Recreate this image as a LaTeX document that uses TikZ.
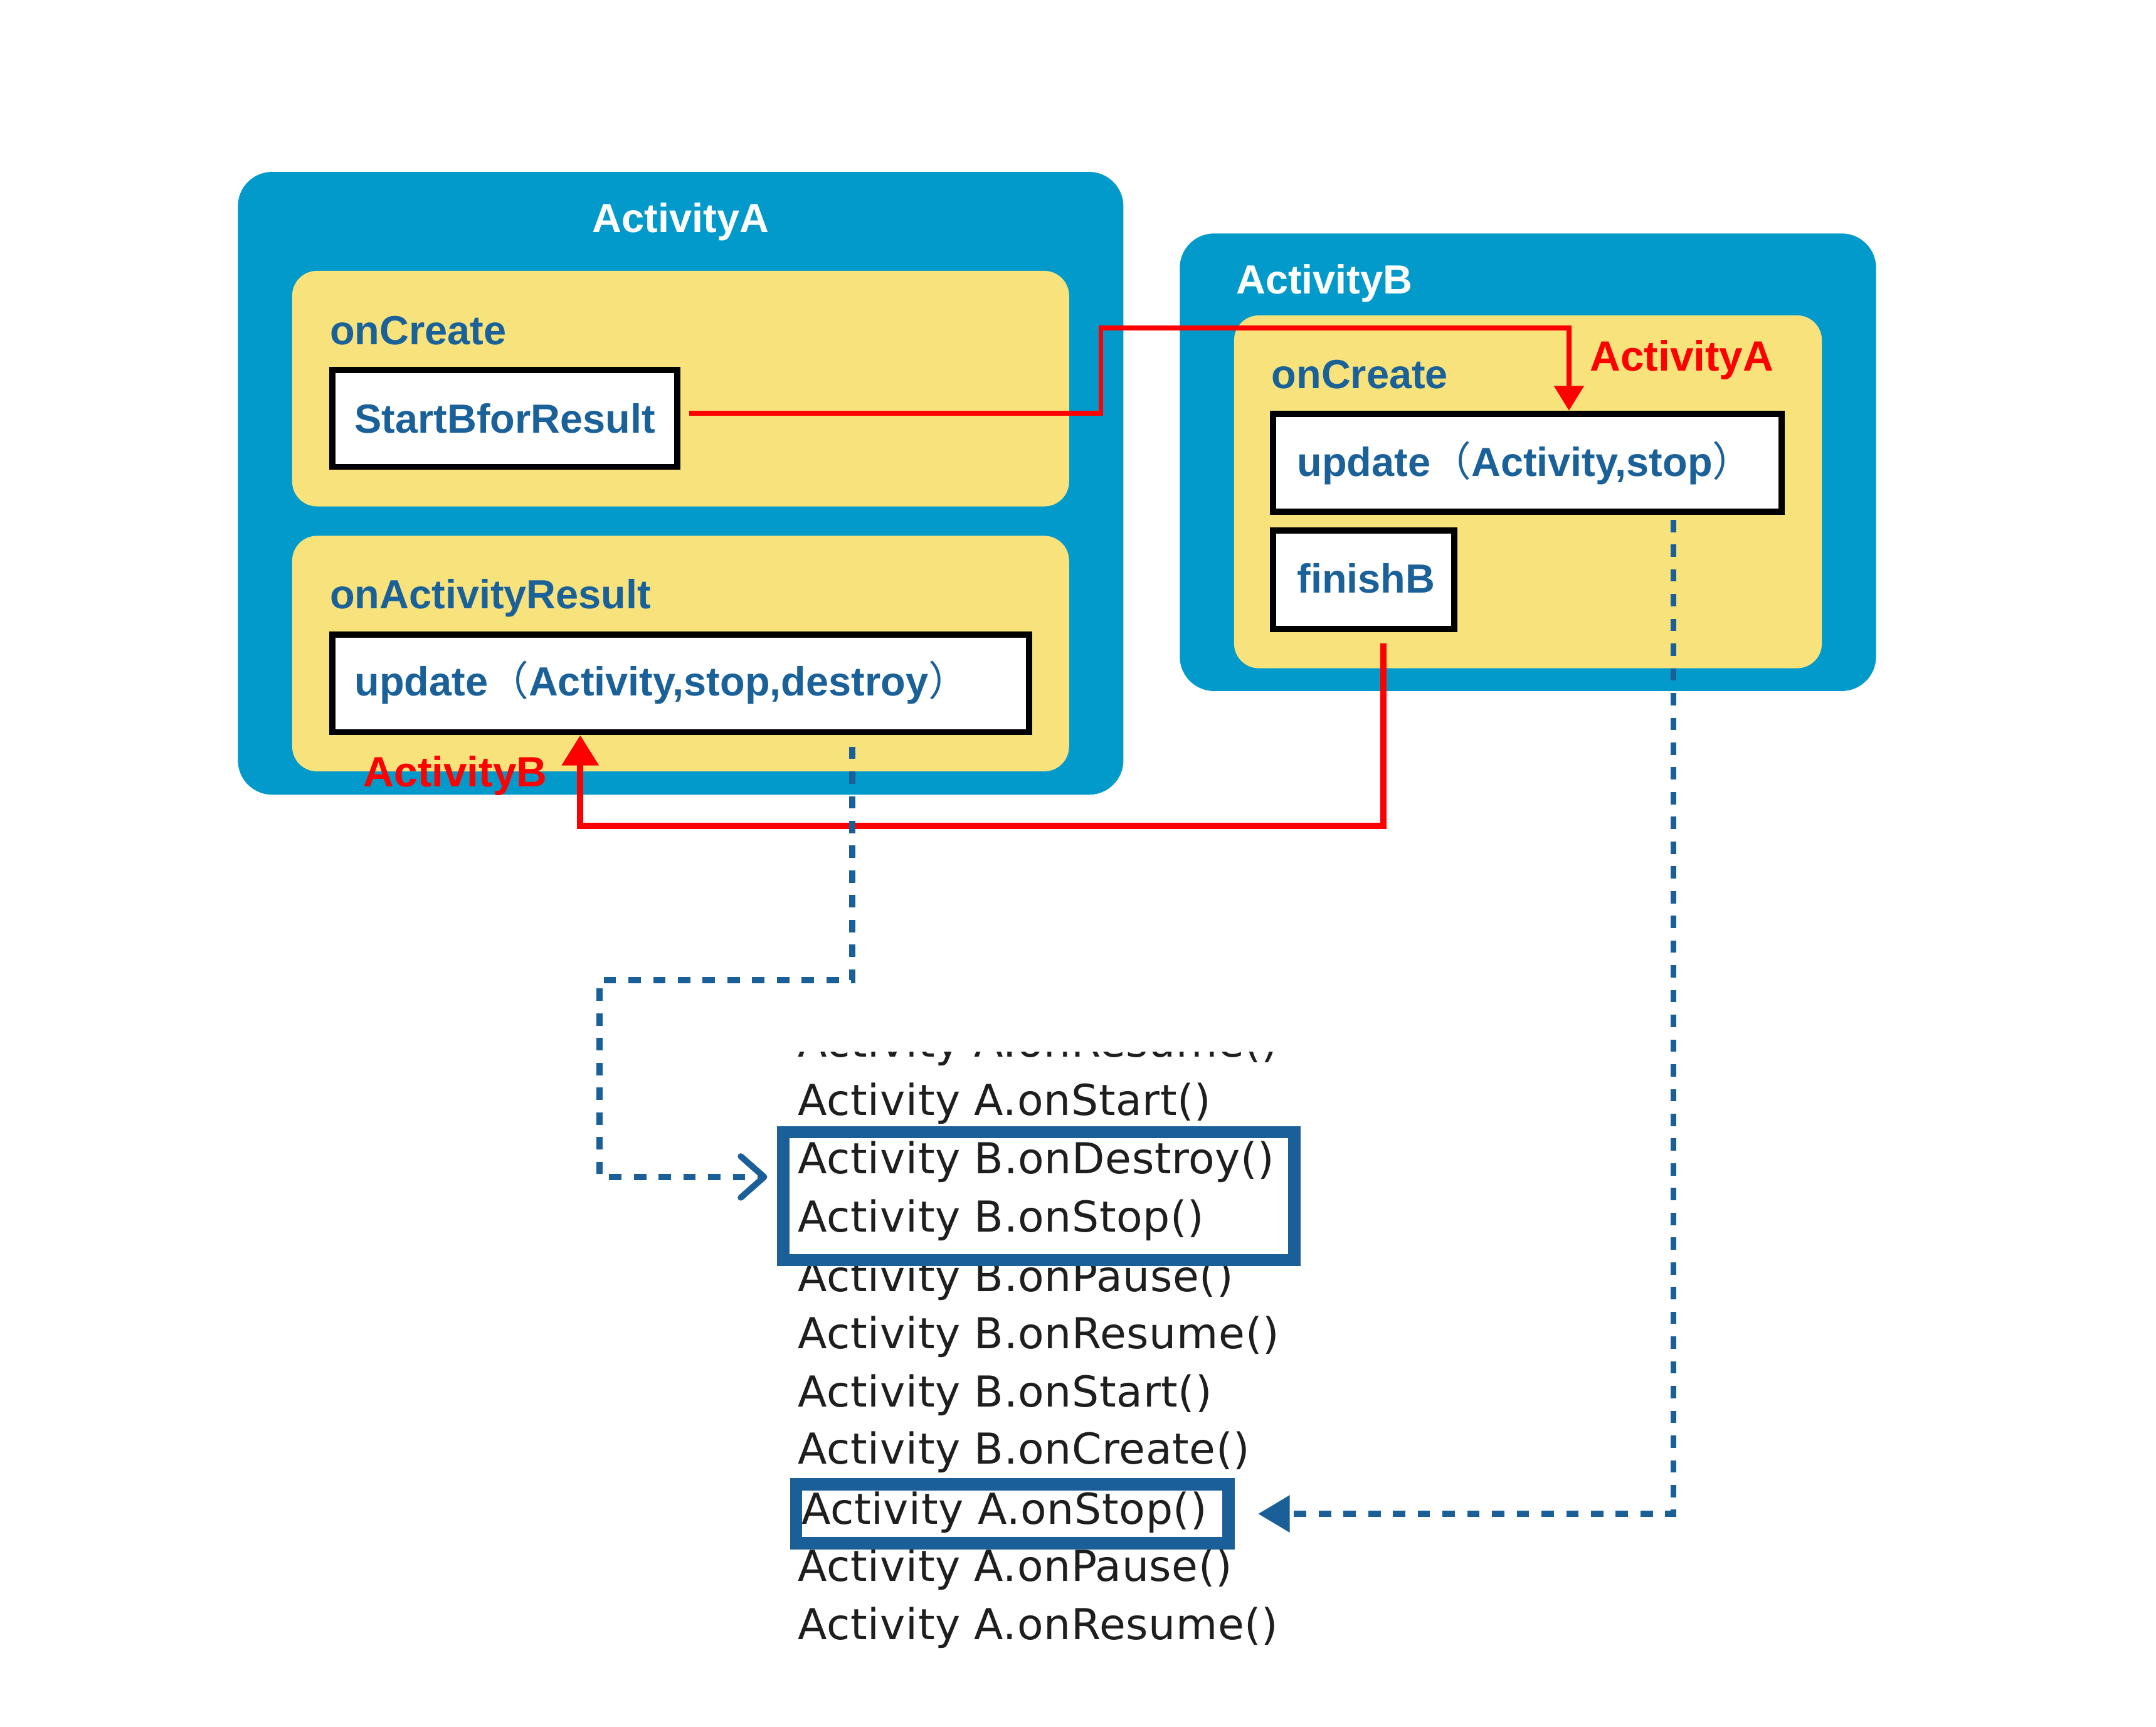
\documentclass[tikz,border=0pt]{standalone}
\usepackage{fontspec}
\setmainfont{Liberation Sans}
\newfontfamily\logfont[LetterSpace=1.0]{DejaVu Sans}
\newfontfamily\cjk{Noto Sans CJK SC}
\usetikzlibrary{arrows.meta}
\definecolor{outerblue}{HTML}{0299CB}
\definecolor{lightyellow}{HTML}{F7E27B}
\definecolor{darkblue}{HTML}{1B6199}
\definecolor{logblue}{HTML}{1A5F98}
\definecolor{logtext}{HTML}{1E1E1E}
\newcommand{\lpar}{{\cjk\mdseries （}}
\newcommand{\rpar}{{\cjk\mdseries ）}}
\begin{document}
\begin{tikzpicture}[x=0.5pt,y=-0.5pt,
  outerbox/.style={fill=outerblue, rounded corners=12.5pt, inner sep=0pt, outer sep=0pt},
  panel/.style={fill=lightyellow, rounded corners=9pt, inner sep=0pt, outer sep=0pt},
  fnbox/.style={draw=black, fill=white, line width=2.25pt, inner sep=0pt},
  boldtxt/.style={font=\bfseries\fontsize{14.8pt}{17pt}\selectfont, inner sep=0pt},
  fnlabel/.style={boldtxt, text=darkblue, anchor=base west},
  acttitle/.style={boldtxt, text=white},
  redlabel/.style={font=\bfseries\fontsize{15.4pt}{18pt}\selectfont, text=red, inner sep=0pt, anchor=base west},
  logline/.style={font=\logfont\fontsize{15.5pt}{18pt}\selectfont, text=logtext, inner sep=0pt, anchor=base west},
  logbox/.style={draw=logblue, line width=4.5pt, inner sep=0pt},
  redthin/.style={draw=red, line width=1.75pt},
  redthick/.style={draw=red, line width=2.25pt},
  bluedash/.style={draw=logblue, line width=2.25pt, dash pattern=on 4.5pt off 4.5pt}
]
\useasboundingbox (0,0) rectangle (1568,1256);
\fill[white] (0,0) rectangle (1568,1256);

% Activity A
\node[outerbox, minimum width=322pt, minimum height=226.5pt] (actA) at (495,351.5) {};
\node[acttitle, anchor=base] (actAtitle) at (495,169) {ActivityA};
\node[panel, minimum width=282.5pt, minimum height=85.65pt] (aCreate) at (495,282.65) {};
\node[panel, minimum width=282.5pt, minimum height=85.65pt] (aResult) at (495,475.35) {};
\node[fnlabel] (aCreateLbl) at (239.6,250.6) {onCreate};
\node[fnlabel] (aResultLbl) at (239.6,442.8) {onActivityResult};
\node[fnbox, minimum width=125.45pt, minimum height=35.2pt] (startB) at (367.3,304.35) {};
\node[fnlabel, anchor=base] (startBtxt) at (367.3,314.9) {StartBforResult};
\node[fnbox, minimum width=253.25pt, minimum height=35.35pt] (updA) at (495.1,497.1) {};
\node[fnlabel] (updAtxt) at (257.5,505.8) {update\lpar Activity,stop,destroy\rpar};

% Activity B
\node[outerbox, minimum width=253.2pt, minimum height=166.4pt] (actB) at (1111.2,336.2) {};
\node[acttitle, anchor=base west] (actBtitle) at (898.6,213.5) {ActivityB};
\node[panel, minimum width=213.75pt, minimum height=128.3pt] (bCreate) at (1111.25,357.7) {};
\node[fnlabel] (bCreateLbl) at (924.4,282.7) {onCreate};
\node[fnbox, minimum width=184.9pt, minimum height=35.65pt] (updB) at (1110.85,336.6) {};
\node[fnlabel] (updBtxt) at (943,346.6) {update\lpar Activity,stop\rpar};
\node[fnbox, minimum width=65.9pt, minimum height=35.85pt] (finishB) at (991.85,421.6) {};
\node[fnlabel] (finishBtxt) at (943,431) {finishB};

% red labels
\node[redlabel] (lblA) at (1156,269.8) {ActivityA};
\node[redlabel] (lblB) at (264,572) {ActivityB};

% log lines
\begin{scope}
  \clip (560,765) rectangle (1000,800);
  \node[logline] (l0) at (580,768.9) {Activity A.onResume()};
\end{scope}
\node[logline] (l1) at (580,811.2) {Activity A.onStart()};
\node[logline] (l2) at (580,853.7) {Activity B.onDestroy()};
\node[logline] (l3) at (580,895.9) {Activity B.onStop()};
\node[logline] (l4) at (580,939.1) {Activity B.onPause()};
\node[logline] (l5) at (580,980.7) {Activity B.onResume()};
\node[logline] (l6) at (580,1023.3) {Activity B.onStart()};
\node[logline] (l7) at (580,1064.8) {Activity B.onCreate()};
\node[logline] (l8) at (582.5,1108.7) {Activity A.onStop()};
\node[logline] (l9) at (580,1150.2) {Activity A.onPause()};
\node[logline] (l10) at (580,1192.4) {Activity A.onResume()};
\node[logbox, minimum width=186pt, minimum height=46.5pt] (box1) at (755.5,870) {};
\node[logbox, minimum width=157.25pt, minimum height=21.5pt] (box2) at (736.25,1101) {};

% red connectors
\draw[redthin, -{Triangle[length=9pt,width=10.5pt]}]
  ([shift={(3.2pt,1.9pt)}]startB.east) -| (800.7,238.5) -| ([xshift=15.1pt]updB.north);
\draw[redthick, -{Triangle[length=11pt,width=13pt]}, shorten <=4.1pt]
  ([xshift=7.2pt]finishB.south) |- (422,600.5) -- ([xshift=-36.55pt]updA.south);

% blue dashed connectors
\draw[bluedash, -{Straight Barb[length=8.5pt,width=15pt,round]}, shorten <=4.15pt, shorten >=3.5pt]
  ([xshift=62.45pt]updA.south) |- (436,713) |- ([yshift=7pt]box1.west);
\draw[bluedash, -{Triangle[length=11.5pt,width=13pt]}, shorten <=1.75pt, shorten >=8.5pt]
  ([xshift=53.1pt]updB.south) |- (box2.east);
\end{tikzpicture}
\end{document}
